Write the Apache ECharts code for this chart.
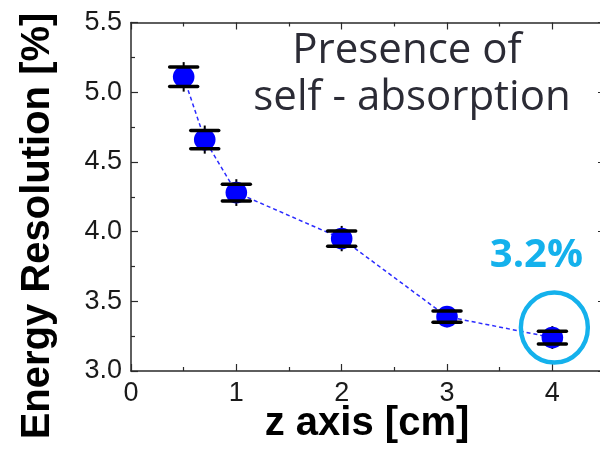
<!DOCTYPE html>
<html>
<head>
<meta charset="utf-8">
<script src="https://cdn.jsdelivr.net/npm/echarts@6/dist/echarts.min.js"></script>
<style>
  html, body { margin: 0; padding: 0; background: #fff; }
  #chart { width: 600px; height: 449px; }
</style>
</head>
<body>
<div id="chart"></div>
<script>
// Source position along the crystal (cm) and measured energy resolution (%)
const zAxis = [0.5, 0.7, 1, 2, 3, 4];
const resolution = [5.11, 4.66, 4.28, 3.95, 3.39, 3.24];
const resolutionErr = [0.07, 0.065, 0.06, 0.055, 0.04, 0.046];

// Tick labels
const xTicks = [0, 1, 2, 3, 4];
const yTicks = [3.0, 3.5, 4.0, 4.5, 5.0, 5.5];

const axisColor = '#2a2a2a';
const labelFont = 'Liberation Sans, Arial, sans-serif';

const chart = echarts.init(document.getElementById('chart'), null, { renderer: 'canvas' });

const frameX = {
  type: 'value', min: 0, max: 5, interval: 1,
  axisLine: { show: true, onZero: false, lineStyle: { color: axisColor, width: 1.5 } },
  axisTick: { show: true, inside: true, length: 7, lineStyle: { color: axisColor, width: 1.2 } },
  minorTick: { show: true, splitNumber: 2, length: 4, lineStyle: { color: axisColor, width: 1.2 } },
  splitLine: { show: false }
};
const frameY = {
  type: 'value', min: 3, max: 5.5, interval: 0.5,
  axisLine: { show: true, onZero: false, lineStyle: { color: axisColor, width: 1.5 } },
  axisTick: { show: true, inside: true, length: 7, lineStyle: { color: axisColor, width: 1.2 } },
  minorTick: { show: true, splitNumber: 2, length: 4, lineStyle: { color: axisColor, width: 1.2 } },
  splitLine: { show: false }
};

chart.setOption({
  animation: false,
  grid: { left: 131, top: 22.5, width: 526.7, height: 348.5, containLabel: false, outerBoundsMode: 'none' },
  xAxis: [
    Object.assign({}, frameX, {
      position: 'bottom',
      axisLabel: {
        show: true, customValues: xTicks, margin: 9,
        fontFamily: labelFont, fontSize: 27, color: '#1a1a1a',
        formatter: v => String(v)
      }
    }),
    Object.assign({}, frameX, { position: 'top', axisLabel: { show: false } })
  ],
  yAxis: [
    Object.assign({}, frameY, {
      position: 'left',
      axisLabel: {
        show: true, customValues: yTicks, margin: 9,
        fontFamily: labelFont, fontSize: 27, color: '#1a1a1a',
        formatter: v => v.toFixed(1)
      }
    }),
    Object.assign({}, frameY, { position: 'right', offset: -52.7, axisLabel: { show: false } })
  ],
  series: [
    {
      // dashed guide through the measurements
      type: 'line',
      data: zAxis.map((x, i) => [x, resolution[i]]),
      symbol: 'none',
      z: 2,
      lineStyle: { color: '#2b2bff', width: 1.5, type: [4, 3] },
      markPoint: {
        silent: true,
        data: [{ type: 'min' }],
        symbol: 'circle',
        symbolSize: [67, 70],
        symbolOffset: [2, -10],
        itemStyle: { color: 'rgba(0,0,0,0)', borderColor: '#14b1ec', borderWidth: 4.5 },
        label: {
          show: true, position: 'inside', offset: [-18, -72],
          formatter: p => p.value.toFixed(1) + '%',
          fontFamily: 'Open Sans, sans-serif', fontWeight: 'bold', fontSize: 40, color: '#14b1ec'
        }
      }
    },
    {
      // markers with error bars
      type: 'custom',
      z: 3,
      data: zAxis.map((x, i) => [x, resolution[i], resolutionErr[i]]),
      encode: { x: 0, y: 1 },
      renderItem: (params, api) => {
        const x = api.value(0), y = api.value(1), e = api.value(2);
        const c = api.coord([x, y]);
        const hi = api.coord([x, y + e]);
        const lo = api.coord([x, y - e]);
        const capHalf = 14, spike = 5;
        return {
          type: 'group',
          children: [
            { type: 'line', shape: { x1: c[0], y1: hi[1] - spike, x2: c[0], y2: lo[1] + spike },
              style: { stroke: '#000', lineWidth: 2 } },
            { type: 'circle', shape: { cx: c[0], cy: c[1], r: 10.8 },
              style: { fill: '#0000ff' } },
            { type: 'line', shape: { x1: c[0] - capHalf, y1: hi[1], x2: c[0] + capHalf, y2: hi[1] },
              style: { stroke: '#000', lineWidth: 3.5, lineCap: 'round' } },
            { type: 'line', shape: { x1: c[0] - capHalf, y1: lo[1], x2: c[0] + capHalf, y2: lo[1] },
              style: { stroke: '#000', lineWidth: 3.5, lineCap: 'round' } }
          ]
        };
      }
    }
  ],
  graphic: [
    { type: 'text', x: 38, y: 226, rotation: Math.PI / 2,
      style: { text: 'Energy Resolution [%]', font: 'bold 40px Liberation Sans, Arial, sans-serif',
               fill: '#000', textAlign: 'center', textVerticalAlign: 'middle' } },
    { type: 'text', x: 367, y: 424,
      style: { text: 'z axis [cm]', font: 'bold 40px Liberation Sans, Arial, sans-serif',
               fill: '#000', textAlign: 'center', textVerticalAlign: 'middle' } },
    { type: 'text', x: 407, y: 51,
      style: { text: 'Presence of', font: '42px Open Sans, sans-serif',
               fill: '#2b2b35', textAlign: 'center', textVerticalAlign: 'middle' } },
    { type: 'text', x: 412, y: 98,
      style: { text: 'self - absorption', font: '42px Open Sans, sans-serif',
               fill: '#2b2b35', textAlign: 'center', textVerticalAlign: 'middle' } }
  ]
});
</script>
</body>
</html>
